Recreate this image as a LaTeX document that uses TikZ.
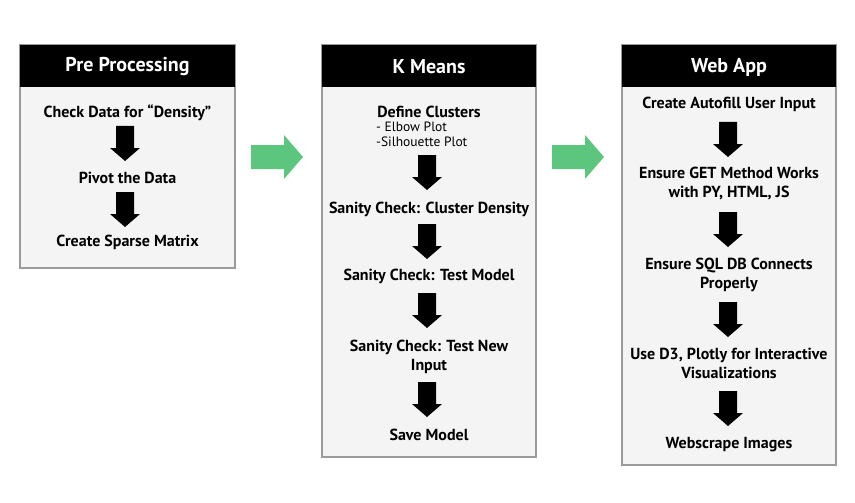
\documentclass[tikz,border=0pt]{standalone}
\usepackage{fontspec}
\setmainfont{PT Sans}
\usetikzlibrary{positioning}
\definecolor{panelfill}{HTML}{F4F4F4}
\definecolor{panelline}{HTML}{9A9A9A}
\definecolor{flowgreen}{HTML}{5CC67E}
\tikzset{
  panel/.style={draw=panelline, line width=1.2pt, fill=panelfill},
  header/.style={fill=black},
  headtext/.style={text=white, font=\fontsize{20}{24}\selectfont\bfseries, inner sep=0pt},
  steptext/.style={font=\fontsize{16}{19}\selectfont\bfseries, align=center, inner sep=0pt},
  subtext/.style={font=\fontsize{13.5}{15}\selectfont, align=left, inner sep=0pt},
  pics/downarrow/.style={code={
    \fill[black] (-9,0) -- (9,0) -- (9,22) -- (15,22) -- (0,35) -- (-15,22) -- (-9,22) -- cycle;
  }},
  pics/greenarrow/.style={code={
    \fill[flowgreen] (0,-12) -- (33,-12) -- (33,-22) -- (52,0) -- (33,22) -- (33,12) -- (0,12) -- cycle;
  }}
}
\begin{document}
\begin{tikzpicture}[x=1pt,y=-1pt]
\useasboundingbox (0,0) rectangle (855,503);

% Panel 1
\draw[panel] (20,45) rectangle (235,268);
\fill[header] (20,45) rectangle (235,87);
\node[headtext] (h1) at (127.5,67) {Pre Processing};
\node[steptext] (a1) at (127.5,112.5) {Check Data for “Density”};
\node[steptext] (a2) at (127.5,177.5) {Pivot the Data};
\node[steptext] (a3) at (127.5,242.5) {Create Sparse Matrix};
\pic at (125,126) {downarrow};
\pic at (125,192) {downarrow};

% Panel 2
\draw[panel] (322,45) rectangle (536,457);
\fill[header] (322,45) rectangle (536,87);
\node[headtext] (h2) at (429,67) {K Means};
\node[steptext] (b1) at (429,111.5) {Define Clusters};
\node[subtext, anchor=north west] (b1s) at (376,121.5) {- Elbow Plot\\-Silhouette Plot};
\node[steptext] (b2) at (429,209.5) {Sanity Check: Cluster Density};
\node[steptext] (b3) at (429,276.5) {Sanity Check: Test Model};
\node[steptext] (b4) at (429,356.5) {Sanity Check: Test New\\Input};
\node[steptext] (b5) at (429,434.5) {Save Model};
\pic at (427,155) {downarrow};
\pic at (427,224) {downarrow};
\pic at (427,293) {downarrow};
\pic at (427,382) {downarrow};

% Panel 3
\draw[panel] (622,45) rectangle (836,465);
\fill[header] (622,45) rectangle (836,87);
\node[headtext] (h3) at (729,67) {Web App};
\node[steptext] (c1) at (729,104.5) {Create Autofill User Input};
\node[steptext] (c2) at (729,183.5) {Ensure GET Method Works\\with PY, HTML, JS};
\node[steptext] (c3) at (729,274.5) {Ensure SQL DB Connects\\Properly};
\node[steptext] (c4) at (729,363.5) {Use D3, Plotly for Interactive\\Visualizations};
\node[steptext] (c5) at (729,444.5) {Webscrape Images};
\pic at (728,122) {downarrow};
\pic at (728,212) {downarrow};
\pic at (728,302) {downarrow};
\pic at (728,391) {downarrow};

% Green flow arrows
\pic at (251,157) {greenarrow};
\pic at (552,157) {greenarrow};
\end{tikzpicture}
\end{document}
